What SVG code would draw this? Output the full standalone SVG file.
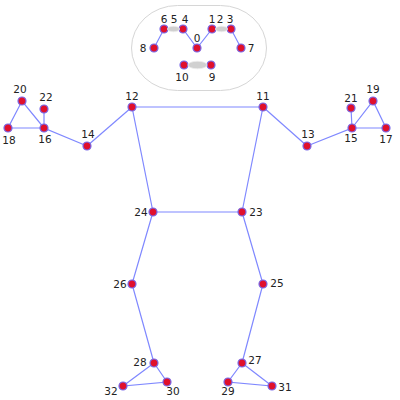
<svg xmlns="http://www.w3.org/2000/svg" width="400" height="400" viewBox="0 0 400 400">
<defs>
<circle id="k" r="4"/>
</defs>
<style>
.bg{fill:#fff}
.head{fill:#fff;stroke:#d6d6d6;stroke-width:1}
.feat{fill:#d0d0d0;stroke:#eeeeee;stroke-width:.8}
#connectors line,#connectors polyline{stroke:#7f88ff;stroke-width:1.2;fill:none}
.kp use{fill:#e0102c;stroke:#7868e8;stroke-width:1.2}
text{font-family:"DejaVu Sans",sans-serif;font-size:10.500px;fill:#222;text-anchor:middle}
</style>
<rect class="bg" width="400" height="400"/>
<g id="head"><rect class="head" x="131.500" y="5.500" width="135" height="85" rx="46" ry="42.500"/></g>
<g id="connectors">
<polyline points="154,48 164,29 183,29 197,48 212,29 231,29 241,48"/>
<line x1="184" y1="65" x2="211" y2="65"/>
<line x1="132" y1="107" x2="263" y2="107"/>
<line x1="132" y1="107" x2="87" y2="146"/>
<polyline points="87,146 44,128 44,109"/>
<polyline points="44,128 8,128 22,101 44,128"/>
<line x1="263" y1="107" x2="307" y2="146"/>
<polyline points="307,146 352,128 351,108"/>
<polyline points="352,128 386,128 373,101 352,128"/>
<polyline points="132,107 153,212 242,212 263,107"/>
<polyline points="153,212 132,284 154,363"/>
<polyline points="154,363 123,386 167,382 154,363"/>
<polyline points="242,212 263,284 242,363"/>
<polyline points="242,363 228,382 272,386 242,363"/>
</g>
<g class="kp">
<g id="n0"><use href="#k" x="197" y="48"/><text x="197" y="42">0</text></g>
<g id="n1"><use href="#k" x="212" y="29"/><text x="212" y="23">1</text></g>
<g id="n2"><text x="220" y="23">2</text></g>
<g id="n3"><use href="#k" x="231" y="29"/><text x="230" y="23">3</text></g>
<g id="n4"><use href="#k" x="183" y="29"/><text x="185" y="23">4</text></g>
<g id="n5"><text x="174" y="23">5</text></g>
<g id="n6"><use href="#k" x="164" y="29"/><text x="164" y="23">6</text></g>
<g id="n7"><use href="#k" x="241" y="48"/><text x="251" y="52">7</text></g>
<g id="n8"><use href="#k" x="154" y="48"/><text x="143" y="52">8</text></g>
<g id="n9"><use href="#k" x="211" y="65"/><text x="212" y="81">9</text></g>
<g id="n10"><use href="#k" x="184" y="65"/><text x="182" y="81">10</text></g>
<g id="n11"><use href="#k" x="263" y="107"/><text x="263" y="100">11</text></g>
<g id="n12"><use href="#k" x="132" y="107"/><text x="132" y="100">12</text></g>
<g id="n13"><use href="#k" x="307" y="146"/><text x="308" y="138">13</text></g>
<g id="n14"><use href="#k" x="87" y="146"/><text x="88" y="138">14</text></g>
<g id="n15"><use href="#k" x="352" y="128"/><text x="351" y="142">15</text></g>
<g id="n16"><use href="#k" x="44" y="128"/><text x="45" y="143">16</text></g>
<g id="n17"><use href="#k" x="386" y="128"/><text x="386" y="143">17</text></g>
<g id="n18"><use href="#k" x="8" y="128"/><text x="9" y="144">18</text></g>
<g id="n19"><use href="#k" x="373" y="101"/><text x="373" y="93">19</text></g>
<g id="n20"><use href="#k" x="22" y="101"/><text x="20" y="93">20</text></g>
<g id="n21"><use href="#k" x="351" y="108"/><text x="351" y="102">21</text></g>
<g id="n22"><use href="#k" x="44" y="109"/><text x="46" y="101">22</text></g>
<g id="n23"><use href="#k" x="242" y="212"/><text x="256" y="216">23</text></g>
<g id="n24"><use href="#k" x="153" y="212"/><text x="141" y="216">24</text></g>
<g id="n25"><use href="#k" x="263" y="284"/><text x="277" y="287">25</text></g>
<g id="n26"><use href="#k" x="132" y="284"/><text x="120" y="288">26</text></g>
<g id="n27"><use href="#k" x="242" y="363"/><text x="255" y="364">27</text></g>
<g id="n28"><use href="#k" x="154" y="363"/><text x="140" y="366">28</text></g>
<g id="n29"><use href="#k" x="228" y="382"/><text x="228" y="395">29</text></g>
<g id="n30"><use href="#k" x="167" y="382"/><text x="173" y="395">30</text></g>
<g id="n31"><use href="#k" x="272" y="386"/><text x="285" y="391">31</text></g>
<g id="n32"><use href="#k" x="123" y="386"/><text x="111" y="395">32</text></g>
</g>
<g id="features">
<ellipse class="feat" cx="173.500" cy="29" rx="6" ry="2.800"/>
<ellipse class="feat" cx="221.500" cy="29" rx="6" ry="2.800"/>
<ellipse class="feat" cx="197.500" cy="65" rx="9.500" ry="3.800"/>
</g>
</svg>
